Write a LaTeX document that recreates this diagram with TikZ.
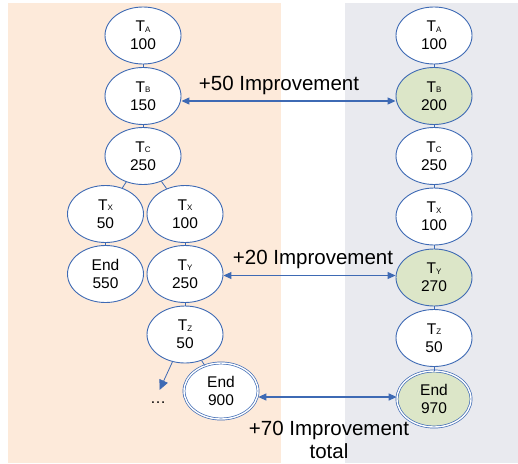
\documentclass[tikz,border=0pt]{standalone}
\usepackage{fontspec}
\setmainfont{Liberation Sans}
\usetikzlibrary{shapes.geometric,arrows.meta}

\definecolor{peach}{RGB}{253,234,218}
\definecolor{slate}{RGB}{233,234,239}
\definecolor{sage}{RGB}{220,230,200}
\definecolor{edgeblue}{RGB}{62,106,180}

% task label: big T with a small index letter
\newcommand{\tlab}[1]{T\raisebox{-0.6pt}{\fontsize{8}{8}\selectfont #1}}

\tikzset{
  task/.style={ellipse, draw=edgeblue, line width=0.9pt, fill=white,
    minimum width=76pt, minimum height=57pt, inner sep=0pt, align=center,
    font=\fontsize{15.5}{18}\selectfont},
  better/.style={task, fill=sage},
  finish/.style={task, double=white, double distance=1.4pt, line width=0.7pt,
    minimum width=74pt, minimum height=56pt},
  link/.style={draw=edgeblue, line width=0.8pt},
  gain/.style={draw=edgeblue, line width=1.1pt,
    {Triangle[length=8pt,width=7pt]}-{Triangle[length=8pt,width=7pt]}},
  note/.style={font=\fontsize{20.5}{23}\selectfont, align=center, inner sep=0pt}
}

\begin{document}
\begin{tikzpicture}[x=1pt,y=-1pt]
\useasboundingbox (0,0) rectangle (518,463);

% panels
\fill[peach] (8,3) rectangle (281,463);
\fill[slate] (345,3) rectangle (518,463);

% left tree
\node[task] (la) at (143,35.5) {\tlab{A}\\100};
\node[task] (lb) at (143,96) {\tlab{B}\\150};
\node[task] (lc) at (143,156) {\tlab{C}\\250};
\node[task] (lx1) at (105.5,214) {\tlab{X}\\50};
\node[task] (lx2) at (185,214) {\tlab{X}\\100};
\node[task] (le1) at (105.5,274) {End\\550};
\node[task] (ly) at (185,274) {\tlab{Y}\\250};
\node[task] (lz) at (185,334.5) {\tlab{Z}\\50};
\node[finish] (le2) at (221,391) {End\\900};
\node[font=\fontsize{16}{18}\selectfont, inner sep=0pt] (more) at (158,403) {\dots};
\coordinate (moretip) at (159.5,390);

\draw[link] (la) -- (lb);
\draw[link] (lb) -- (lc);
\draw[link] (lc) -- (lx1);
\draw[link] (lc) -- (lx2);
\draw[link] (lx1) -- (le1);
\draw[link] (lx2) -- (ly);
\draw[link] (ly) -- (lz);
\draw[link] (lz) -- (le2);
\draw[link, -{Triangle[length=10pt,width=9pt]}] (lz) -- (moretip);

% right chain
\node[task] (ra) at (434,35.5) {\tlab{A}\\100};
\node[better] (rb) at (434,96) {\tlab{B}\\200};
\node[task] (rc) at (434,156) {\tlab{C}\\250};
\node[task] (rx) at (434,216.5) {\tlab{X}\\100};
\node[better] (ry) at (434,277.5) {\tlab{Y}\\270};
\node[task] (rz) at (434,338) {\tlab{Z}\\50};
\node[finish, fill=sage] (re) at (434,399) {End\\970};

\draw[link] (ra) -- (rb);
\draw[link] (rb) -- (rc);
\draw[link] (rc) -- (rx);
\draw[link] (rx) -- (ry);
\draw[link] (ry) -- (rz);
\draw[link] (rz) -- (re);

% improvements
\draw[gain] ([yshift=-5pt]lb.east) -- ([yshift=-5pt]rb.west);
\draw[gain] ([yshift=-1.5pt]ly.east) -- ([yshift=2pt]ry.west);
\draw[gain] ([yshift=-6pt]le2.east) -- ([yshift=2pt]re.west);

\node[note] (n50) at (279,85) {+50 Improvement};
\node[note] (n20) at (313,259) {+20 Improvement};
\node[note, font=\fontsize{20.5}{22.5}\selectfont] (n70) at (329,440) {+70 Improvement\\total};
\end{tikzpicture}
\end{document}
